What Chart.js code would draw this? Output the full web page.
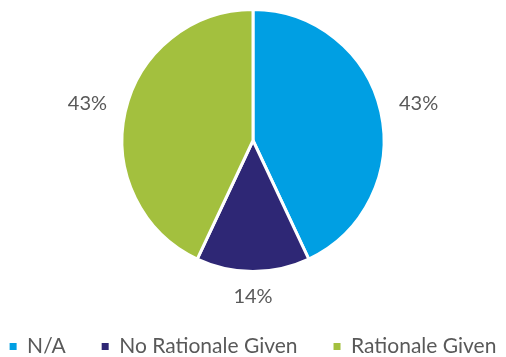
<!DOCTYPE html>
<html><head><meta charset="utf-8">
<script src="https://cdn.jsdelivr.net/npm/chart.js@4"></script>
<style>html,body{margin:0;padding:0;background:#fff;}#wrap{width:506px;height:357px;}</style>
</head><body><div id="wrap"><canvas id="c" width="506" height="357"></canvas></div>
<script>
const categories = ["N/A", "No Rationale Given", "Rationale Given"];
const percentValues = [43, 14, 43];
const sliceColors = ["#009FE3", "#2E2775", "#A3C03E"];

const outsideLabels = {
  id: 'outsideLabels',
  afterDatasetsDraw(chart) {
    const ctx = chart.ctx;
    const meta = chart.getDatasetMeta(0);
    ctx.save();
    ctx.font = '20px Lato';
    ctx.fillStyle = '#595959';
    ctx.textAlign = 'center';
    ctx.textBaseline = 'middle';
    meta.data.forEach((arc, i) => {
      const p = arc.getProps(['x','y','startAngle','endAngle','outerRadius'], true);
      const mid = (p.startAngle + p.endAngle) / 2;
      const txt = percentValues[i] + '%';
      const w = ctx.measureText(txt).width;
      const h = 14;
      const d = p.outerRadius + 18 + Math.abs(Math.cos(mid)) * w / 2 + Math.abs(Math.sin(mid)) * h / 2;
      ctx.fillText(txt, p.x + Math.cos(mid) * d, p.y + Math.sin(mid) * d);
    });
    ctx.restore();
  }
};

new Chart(document.getElementById('c'), {
  type: 'pie',
  data: {
    labels: categories,
    datasets: [{
      data: percentValues,
      backgroundColor: sliceColors,
      borderColor: '#ffffff',
      borderWidth: 3,
      radius: 131,
      clip: false
    }]
  },
  options: {
    responsive: false,
    animation: false,
    layout: { padding: { top: 0, left: -34, right: -34, bottom: -10 } },
    plugins: {
      tooltip: { enabled: false },
      legend: {
        position: 'bottom',
        title: { display: true, text: ' ', font: { size: 1, lineHeight: 1 }, padding: { top: 9, bottom: 9 } },
        labels: {
          font: { family: 'Lato', size: 21 },
          color: '#595959',
          boxWidth: 7,
          boxHeight: 7,
          padding: 36,
          generateLabels(chart) {
            const items = Chart.overrides.pie.plugins.legend.labels.generateLabels(chart);
            return items.map(it => Object.assign(it, { lineWidth: 0, strokeStyle: 'rgba(0,0,0,0)' }));
          }
        }
      }
    }
  },
  plugins: [outsideLabels]
});
</script></body></html>
